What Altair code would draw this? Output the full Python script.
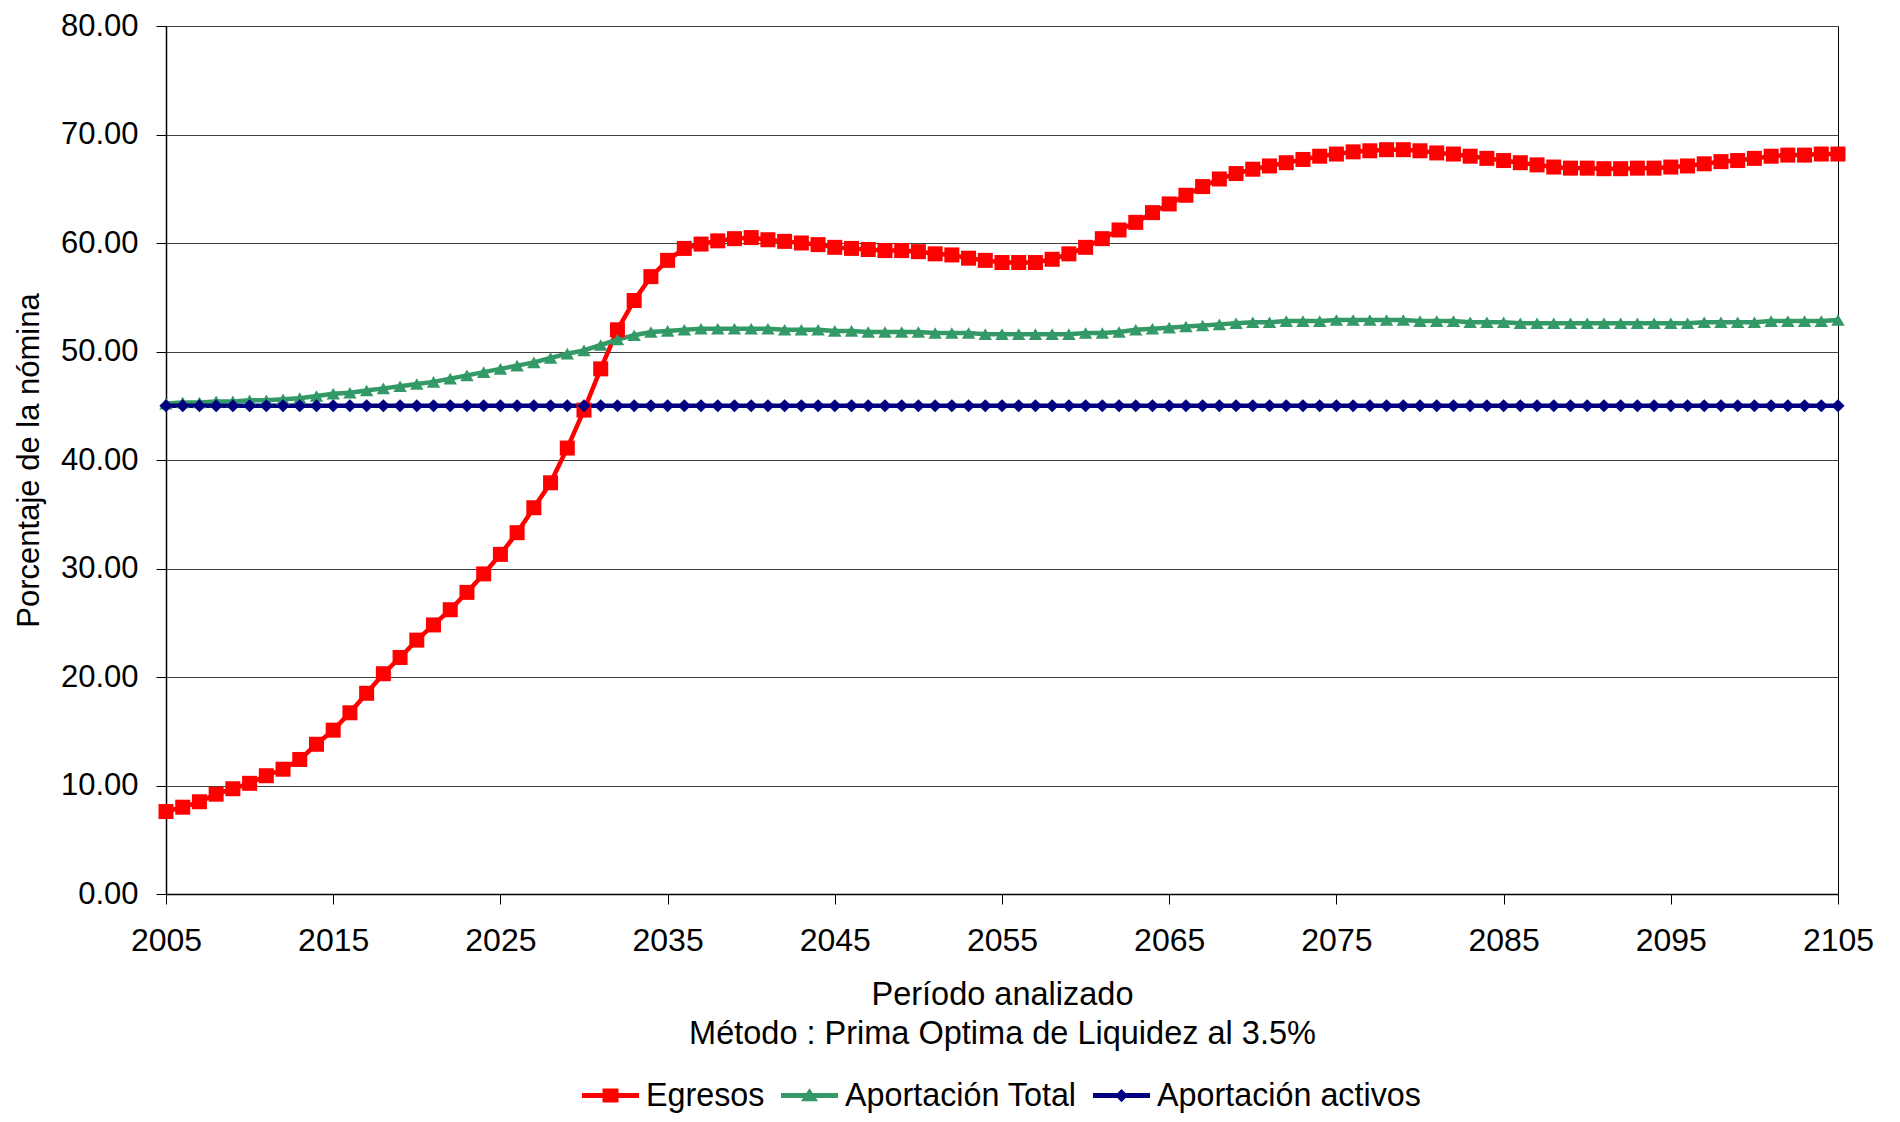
import altair as alt
import pandas as pd

years = list(range(2005, 2106))

egresos = [
    7.6, 8.0, 8.5, 9.2, 9.7, 10.2, 10.9, 11.5, 12.4, 13.8,
    15.1, 16.7, 18.5, 20.3, 21.8, 23.4, 24.8, 26.2, 27.8, 29.5,
    31.3, 33.3, 35.6, 37.9, 41.1, 44.6, 48.4, 52.0, 54.7, 56.9,
    58.4, 59.5, 59.9, 60.2, 60.4, 60.5, 60.3, 60.15, 60.0, 59.85,
    59.6, 59.5, 59.4, 59.3, 59.3, 59.2, 59.0, 58.9, 58.6, 58.4,
    58.2, 58.2, 58.2, 58.5, 59.0, 59.6, 60.4, 61.2, 61.9, 62.8,
    63.6, 64.4, 65.2, 65.9, 66.4, 66.8, 67.1, 67.4, 67.7, 68.0,
    68.2, 68.4, 68.5, 68.6, 68.6, 68.5, 68.3, 68.2, 68.0, 67.8,
    67.6, 67.4, 67.2, 67.0, 66.9, 66.9, 66.85, 66.85, 66.9, 66.9,
    67.0, 67.1, 67.3, 67.5, 67.6, 67.8, 68.0, 68.1, 68.1, 68.2,
    68.2,
]

aportacion_total = [
    45.2, 45.3, 45.3, 45.4, 45.4, 45.5, 45.5, 45.6, 45.7, 45.9,
    46.1, 46.2, 46.4, 46.6, 46.8, 47.0, 47.2, 47.5, 47.8, 48.1,
    48.4, 48.7, 49.0, 49.4, 49.8, 50.1, 50.6, 51.1, 51.5, 51.8,
    51.9, 52.0, 52.1, 52.1, 52.1, 52.1, 52.1, 52.0, 52.0, 52.0,
    51.9, 51.9, 51.8, 51.8, 51.8, 51.8, 51.7, 51.7, 51.7, 51.6,
    51.6, 51.6, 51.6, 51.6, 51.6, 51.7, 51.7, 51.8, 52.0, 52.1,
    52.2, 52.3, 52.4, 52.5, 52.6, 52.7, 52.7, 52.8, 52.8, 52.8,
    52.9, 52.9, 52.9, 52.9, 52.9, 52.8, 52.8, 52.8, 52.7, 52.7,
    52.7, 52.6, 52.6, 52.6, 52.6, 52.6, 52.6, 52.6, 52.6, 52.6,
    52.6, 52.6, 52.7, 52.7, 52.7, 52.7, 52.8, 52.8, 52.8, 52.8,
    52.9,
]

aportacion_activos = [
    45.0, 45.0, 45.0, 45.0, 45.0, 45.0, 45.0, 45.0, 45.0, 45.0,
    45.0, 45.0, 45.0, 45.0, 45.0, 45.0, 45.0, 45.0, 45.0, 45.0,
    45.0, 45.0, 45.0, 45.0, 45.0, 45.0, 45.0, 45.0, 45.0, 45.0,
    45.0, 45.0, 45.0, 45.0, 45.0, 45.0, 45.0, 45.0, 45.0, 45.0,
    45.0, 45.0, 45.0, 45.0, 45.0, 45.0, 45.0, 45.0, 45.0, 45.0,
    45.0, 45.0, 45.0, 45.0, 45.0, 45.0, 45.0, 45.0, 45.0, 45.0,
    45.0, 45.0, 45.0, 45.0, 45.0, 45.0, 45.0, 45.0, 45.0, 45.0,
    45.0, 45.0, 45.0, 45.0, 45.0, 45.0, 45.0, 45.0, 45.0, 45.0,
    45.0, 45.0, 45.0, 45.0, 45.0, 45.0, 45.0, 45.0, 45.0, 45.0,
    45.0, 45.0, 45.0, 45.0, 45.0, 45.0, 45.0, 45.0, 45.0, 45.0,
    45.0,
]

series_names = ["Egresos", "Aportación Total", "Aportación activos"]
series_colors = ["#FF0000", "#339966", "#000080"]
marker_shapes = ["square", "triangle-up", "diamond"]
marker_sizes = [225, 180, 175]
legend_shapes = [
    "M-1,-0.088L1,-0.088L1,0.088L-1,0.088Z M-0.28,-0.245L0.28,-0.245L0.28,0.245L-0.28,0.245Z",
    "M-1,-0.088L1,-0.088L1,0.088L-1,0.088Z M0,-0.26L0.3,0.2L-0.3,0.2Z",
    "M-1,-0.088L1,-0.088L1,0.088L-1,0.088Z M0,-0.23L0.23,0L0,0.23L-0.23,0Z",
]

x_ticks = list(range(2005, 2106, 10))
y_ticks = list(range(0, 81, 10))

rows = []
for name, vals in zip(series_names, [egresos, aportacion_total, aportacion_activos]):
    for yr, v in zip(years, vals):
        rows.append({"Año": yr, "Valor": v, "Serie": name})
df = pd.DataFrame(rows)

FONT = "Liberation Sans"

x_enc = alt.X(
    "Año:Q",
    scale=alt.Scale(domain=[2005, 2105], nice=False, zero=False),
    axis=alt.Axis(
        values=x_ticks,
        format="d",
        grid=False,
        labelFlush=False,
        labelFontSize=32,
        title=["Período analizado", "Método : Prima Optima de Liquidez al 3.5%"],
        titleFontSize=32.5,
        labelPadding=21,
        titlePadding=22,
        titleLineHeight=39,
    ),
)
y_enc = alt.Y(
    "Valor:Q",
    scale=alt.Scale(domain=[0, 80], nice=False),
    axis=alt.Axis(
        values=y_ticks,
        format=".2f",
        grid=True,
        labelFontSize=31,
        title="Porcentaje de la nómina",
        titleFontSize=31,
        labelPadding=18,
        titlePadding=15,
    ),
)

lines = alt.Chart(df).mark_line(strokeWidth=4.5).encode(
    x=x_enc,
    y=y_enc,
    color=alt.Color(
        "Serie:N",
        scale=alt.Scale(domain=series_names, range=series_colors),
        legend=None,
    ),
    order=alt.Order("Año:Q"),
)

point_layers = []
for name, col, shp, sz in zip(series_names, series_colors, marker_shapes, marker_sizes):
    point_layers.append(
        alt.Chart(df)
        .transform_filter(alt.datum.Serie == name)
        .mark_point(filled=True, opacity=1, strokeWidth=0, shape=shp, size=sz, color=col)
        .encode(x=x_enc, y=y_enc)
    )

legend_def = alt.Legend(
    title=None,
    orient="none",
    direction="horizontal",
    legendX=416,
    legendY=1041,
    symbolSize=3249,
    symbolStrokeWidth=0,
    symbolOpacity=1,
    labelFont=FONT,
    labelFontSize=32.3,
    labelColor="black",
    labelOffset=7,
    columnPadding=16,
    padding=0,
    labelLimit=600,
)

legend_layer = alt.Chart(df).mark_point(filled=True, opacity=0).encode(
    x=x_enc,
    y=y_enc,
    color=alt.Color(
        "Serie:N",
        scale=alt.Scale(domain=series_names, range=series_colors),
        legend=legend_def,
    ),
    shape=alt.Shape(
        "Serie:N",
        scale=alt.Scale(domain=series_names, range=legend_shapes),
        legend=legend_def,
    ),
)

chart = (
    alt.layer(lines, *point_layers, legend_layer)
    .resolve_scale(color="independent", shape="independent")
    .properties(
        width=1672,
        height=868,
        autosize=alt.AutoSizeParams(type="none"),
        padding={"left": 158, "top": 18, "right": 40, "bottom": 220},
        background="white",
    )
    .configure_view(stroke="black", strokeWidth=1)
    .configure_axis(
        labelFont=FONT,
        labelColor="black",
        titleFont=FONT,
        titleFontWeight="normal",
        titleColor="black",
        tickColor="black",
        tickSize=10,
        tickWidth=1,
        domainColor="black",
        domainWidth=1.5,
        gridColor="#404040",
        gridWidth=1,
    )
)

chart.save("out.html", embed_options={"renderer": "svg", "actions": False})
